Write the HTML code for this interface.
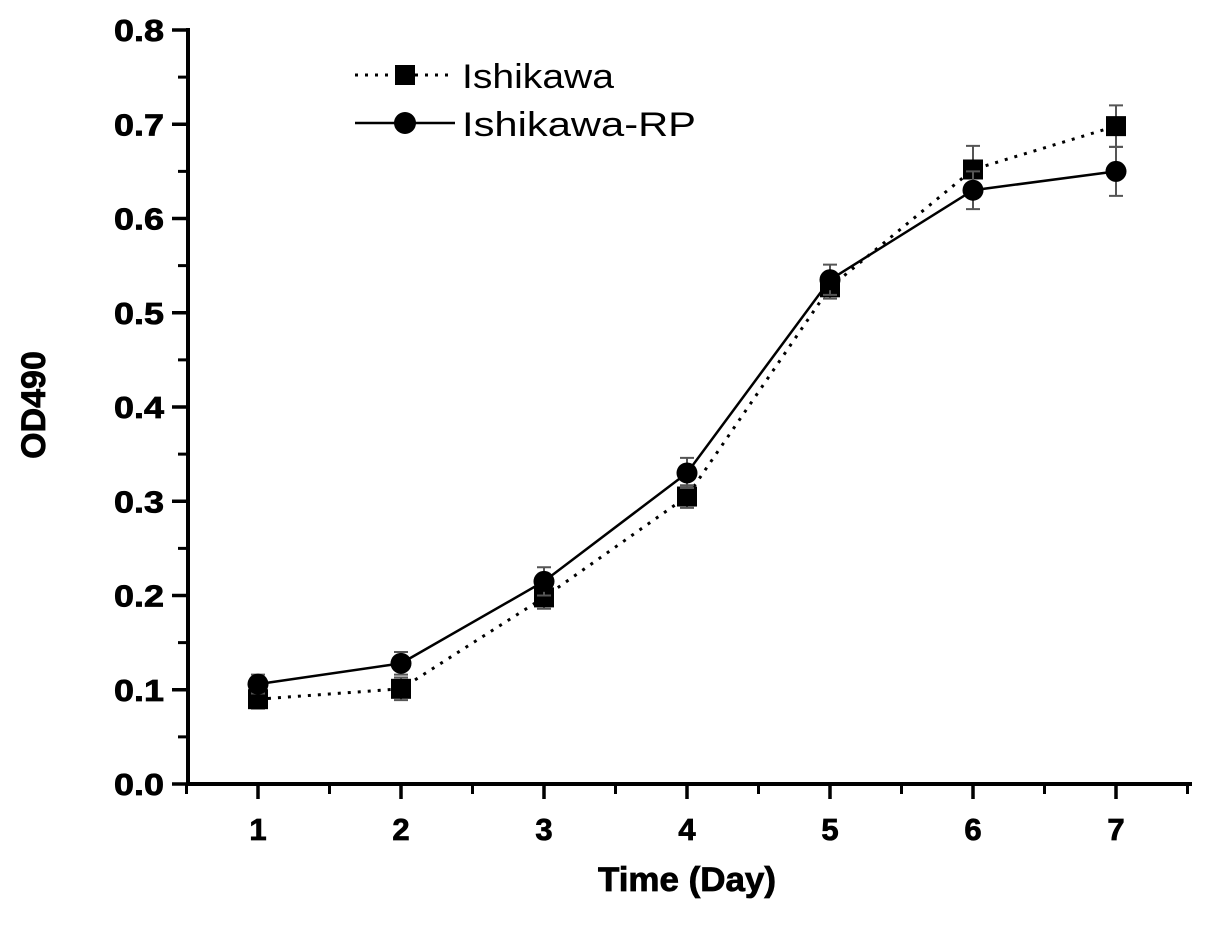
<!DOCTYPE html>
<html><head><meta charset="utf-8"><style>
body{margin:0;background:#fff}
svg{display:block}
text{font-family:"Liberation Sans",Arial,sans-serif}
</style></head><body>
<svg id="chart" width="1205" height="937" xmlns="http://www.w3.org/2000/svg">
<g id="axes"></g>
<g id="series"></g>
<g>
 <line x1="355" y1="75" x2="455" y2="75" stroke="#000" stroke-width="3" stroke-dasharray="3,7"/>
 <rect x="395" y="65" width="20" height="20" fill="#000"/>
 <text x="462" y="88" font-size="34" textLength="152" lengthAdjust="spacingAndGlyphs">Ishikawa</text>
 <line x1="355" y1="123" x2="455" y2="123" stroke="#000" stroke-width="2.5"/>
 <circle cx="405" cy="123" r="11" fill="#000"/>
 <text x="462" y="136" font-size="34" textLength="234" lengthAdjust="spacingAndGlyphs">Ishikawa-RP</text>
</g>
<text x="687" y="891" font-size="34" font-weight="bold" text-anchor="middle" textLength="178" lengthAdjust="spacingAndGlyphs" stroke="#000" stroke-width="0.8">Time (Day)</text>
<text transform="translate(45,405) rotate(-90)" font-size="34" font-weight="bold" text-anchor="middle" stroke="#000" stroke-width="0.8">OD490</text>
</svg>
<script>
const days=[1,2,3,4,5,6,7];
const ishikawa=[0.090,0.101,0.198,0.305,0.527,0.652,0.698];
const ishikawaErr=[0.010,0.012,0.012,0.012,0.012,0.025,0.022];
const ishikawaRP=[0.106,0.128,0.215,0.330,0.535,0.630,0.650];
const ishikawaRPErr=[0.010,0.012,0.015,0.016,0.016,0.020,0.026];
const yTicks=[0.0,0.1,0.2,0.3,0.4,0.5,0.6,0.7,0.8];
const yTickLabels=["0.0","0.1","0.2","0.3","0.4","0.5","0.6","0.7","0.8"];
const xTickLabels=["1","2","3","4","5","6","7"];

const NS="http://www.w3.org/2000/svg";
const X=d=>258+(d-1)*143;
const Y=v=>784-v*(754/0.8);
function mk(tag,attrs,parent,txt){const e=document.createElementNS(NS,tag);for(const k in attrs)e.setAttribute(k,attrs[k]);if(txt!==undefined)e.textContent=txt;parent.appendChild(e);return e;}
const ax=document.getElementById('axes');
let e;
e=mk('line',{x1:188,y1:28,x2:188,y2:786,stroke:'#000','stroke-width':4},ax);


e=mk('line',{x1:186,y1:784,x2:1192,y2:784,stroke:'#000','stroke-width':4},ax);


yTicks.forEach((v,i)=>{
 e=mk('line',{x1:172,y1:Y(v),x2:188,y2:Y(v),stroke:'#000','stroke-width':3.5},ax);
 
 
 if(i<yTicks.length-1){e=mk('line',{x1:178,y1:Y(v+0.05),x2:188,y2:Y(v+0.05),stroke:'#000','stroke-width':3},ax);
 
 }
 e=mk('text',{x:164,y:Y(v)+11,'font-size':31,'font-weight':'bold','text-anchor':'end',textLength:50,lengthAdjust:'spacingAndGlyphs',stroke:'#000','stroke-width':0.8},ax,yTickLabels[i]);
 
 
});
days.forEach((d,i)=>{
 e=mk('line',{x1:X(d),y1:784,x2:X(d),y2:799,stroke:'#000','stroke-width':3.5},ax);
 
 
 e=mk('line',{x1:X(d)+71.5,y1:784,x2:X(d)+71.5,y2:794,stroke:'#000','stroke-width':3},ax);
 
 
 e=mk('text',{x:X(d),y:840,'font-size':31,'font-weight':'bold','text-anchor':'middle',stroke:'#000','stroke-width':0.8},ax,xTickLabels[i]);
 
 
});
e=mk('line',{x1:X(1)-71.5,y1:784,x2:X(1)-71.5,y2:794,stroke:'#000','stroke-width':3},ax);


const sg=document.getElementById('series');
function drawSeries(vals,errs,dashed,marker,name){
 e=mk('polyline',{points:days.map((d,i)=>X(d)+','+Y(vals[i])).join(' '),fill:'none',stroke:'#000','stroke-width':dashed?3:2.5,'stroke-dasharray':dashed?'3,7':'none'},sg);
 
 
 days.forEach((d,i)=>{
  const x=X(d),t=Y(vals[i]+errs[i]),b=Y(vals[i]-errs[i]);
  e=mk('path',{d:`M${x},${t}V${b}M${x-7},${t}H${x+7}M${x-7},${b}H${x+7}`,stroke:'#555','stroke-width':2,fill:'none'},sg);
  
  
  if(marker==='square') e=mk('rect',{x:x-10,y:Y(vals[i])-10,width:20,height:20,fill:'#000'},sg);
  else e=mk('circle',{cx:x,cy:Y(vals[i]),r:10.5,fill:'#000'},sg);
  
  
 });
}
drawSeries(ishikawa,ishikawaErr,true,'square','ishikawa');
drawSeries(ishikawaRP,ishikawaRPErr,false,'circle','ishikawa-rp');
</script>
</body></html>
